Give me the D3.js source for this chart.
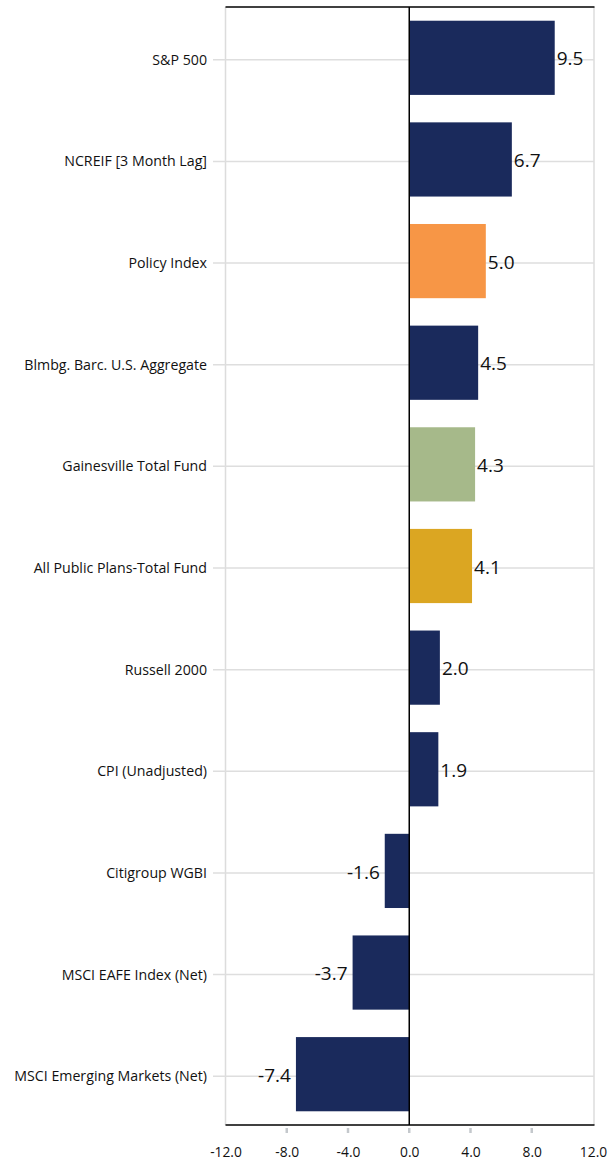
<!DOCTYPE html>
<html>
<head>
<meta charset="utf-8">
<script src="https://cdn.jsdelivr.net/npm/d3@7"></script>
<style>
body{margin:0;background:#fff;}
svg{display:block;}
text{font-family:"Open Sans","Noto Sans",sans-serif;}
</style>
</head>
<body>
<svg id="chart" width="610" height="1163"></svg>
<script>
const categories = ["S&P 500","NCREIF [3 Month Lag]","Policy Index","Blmbg. Barc. U.S. Aggregate","Gainesville Total Fund","All Public Plans-Total Fund","Russell 2000","CPI (Unadjusted)","Citigroup WGBI","MSCI EAFE Index (Net)","MSCI Emerging Markets (Net)"];
const values = [9.5,6.7,5.0,4.5,4.3,4.1,2.0,1.9,-1.6,-3.7,-7.4];
const barColors = ["#1a2a5c","#1a2a5c","#f79646","#1a2a5c","#a6b98a","#dba622","#1a2a5c","#1a2a5c","#1a2a5c","#1a2a5c","#1a2a5c"];
const tickValues = [-12,-8,-4,0,4,8,12];

(function(){
const svg = d3.select("#chart");
const pL = 225.5, pR = 593, pT = 7, pB = 1125;

const x = d3.scaleLinear().domain([-12,12]).range([pL,pR]);
const y = d3.scaleBand().domain(categories).range([pT,pB]).paddingInner(0.27).paddingOuter(0.135);

svg.append("line").attr("x1",pL).attr("x2",pL).attr("y1",pT).attr("y2",pB).attr("stroke","#dcdcdc").attr("stroke-width",1.5);
svg.append("line").attr("x1",pR+1).attr("x2",pR+1).attr("y1",pT).attr("y2",pB).attr("stroke","#dcdcdc").attr("stroke-width",1.5);

svg.append("g").selectAll("line").data(categories).join("line")
  .attr("x1",213).attr("x2",pR+1)
  .attr("y1",d=>y(d)+y.bandwidth()/2+2).attr("y2",d=>y(d)+y.bandwidth()/2+2)
  .attr("stroke","#dedede").attr("stroke-width",1.5);

svg.append("g").selectAll("rect").data(values).join("rect")
  .attr("x",d=>x(Math.min(0,d)))
  .attr("width",d=>Math.abs(x(d)-x(0)))
  .attr("y",(d,i)=>y(categories[i]))
  .attr("height",y.bandwidth())
  .attr("fill",(d,i)=>barColors[i]);

svg.append("line").attr("x1",x(0)).attr("x2",x(0)).attr("y1",pT).attr("y2",pB).attr("stroke","#000").attr("stroke-width",1.5);
svg.append("line").attr("x1",pL).attr("x2",pR+1.5).attr("y1",pT).attr("y2",pT).attr("stroke","#000").attr("stroke-width",1.5);

const xAxis = d3.axisBottom(x).tickValues(tickValues).tickFormat(d=>d.toFixed(1)).tickSize(0).tickPadding(22);
const ax = svg.append("g").attr("transform",`translate(0,${pB})`).call(xAxis);
ax.select(".domain").remove();
ax.selectAll("text").attr("font-size",13.8).attr("fill","#111").attr("font-family","'Open Sans',sans-serif");
svg.append("line").attr("x1",pL).attr("x2",pR+1.5).attr("y1",pB).attr("y2",pB).attr("stroke","#000").attr("stroke-width",1.5);
svg.append("g").selectAll("line").data(tickValues.filter(t=>Math.abs(t)<12)).join("line")
  .attr("x1",d=>x(d)).attr("x2",d=>x(d)).attr("y1",pB+3).attr("y2",pB+8)
  .attr("stroke","#c4c8cc").attr("stroke-width",2.5);

svg.append("g").selectAll("text").data(categories).join("text")
  .attr("x",207).attr("y",d=>y(d)+y.bandwidth()/2+2)
  .attr("dy","0.35em").attr("text-anchor","end")
  .attr("font-size",14.2).attr("fill","#111").text(d=>d);

svg.append("g").selectAll("text").data(values).join("text")
  .attr("x",d=> d>=0 ? x(d)+2 : x(d)-5)
  .attr("y",(d,i)=>y(categories[i])+y.bandwidth()/2+1)
  .attr("dy","0.35em").attr("text-anchor",d=>d>=0?"start":"end")
  .attr("font-size",19).attr("fill","#111").text(d=>d.toFixed(1));
})();
</script>
</body>
</html>
